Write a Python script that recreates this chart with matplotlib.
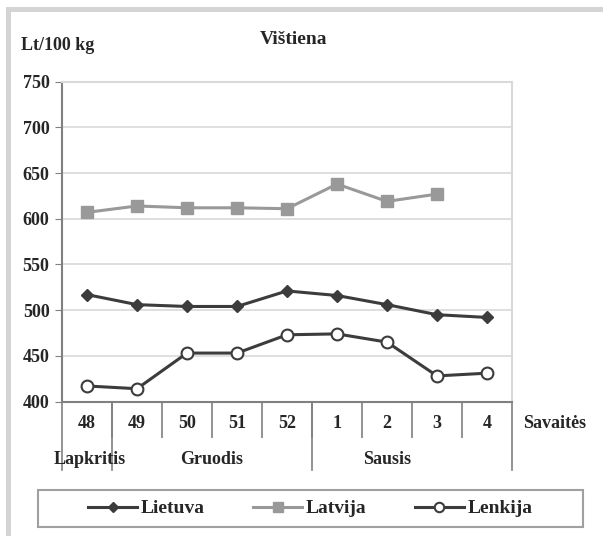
import matplotlib.pyplot as plt
from matplotlib.patches import Rectangle
import matplotlib.transforms as mtransforms

plt.rcParams['font.family'] = ['Liberation Serif', 'DejaVu Serif']
plt.rcParams['font.weight'] = 'bold'
plt.rcParams['text.color'] = '#262626'
plt.rcParams['xtick.labelcolor'] = '#262626'
plt.rcParams['ytick.labelcolor'] = '#262626'

# duomenys
weeks = ['48', '49', '50', '51', '52', '1', '2', '3', '4']
months = ['Lapkritis', 'Gruodis', 'Sausis']
month_pos = [0.05, 2.5, 6.0]
lietuva = [517, 506, 504, 504, 521, 516, 506, 495, 492]
latvija = [607, 614, 612, 612, 611, 638, 619, 627]
lenkija = [417, 414, 453, 453, 473, 474, 465, 428, 431]

W, H = 603, 536
fs = 13
fig = plt.figure(figsize=(W / 100, H / 100), dpi=100)

# pilkas remelis
fig.add_artist(Rectangle((6 / W, 0), 5 / W, (H - 7) / H, transform=fig.transFigure,
                         facecolor='#d4d4d4', edgecolor='none'))
fig.add_artist(Rectangle((6 / W, (H - 12) / H), (W - 6) / W, 5 / H, transform=fig.transFigure,
                         facecolor='#d4d4d4', edgecolor='none'))

left, right, top, bottom = 62, 512, 81.7, 401.5
ax = fig.add_axes([left / W, (H - bottom) / H, (right - left) / W, (bottom - top) / H])

x = list(range(len(weeks)))
dark = '#3c3c3c'
ax.plot(x, lietuva, color=dark, lw=2.2, marker='D', markersize=6.5, label='Lietuva', zorder=3)
ax.plot(x[:len(latvija)], latvija, color='#999999', lw=2.2, marker='s', markersize=9,
        label='Latvija', zorder=3)
ax.plot(x, lenkija, color=dark, lw=2.2, marker='o', markersize=8.5, markerfacecolor='white',
        markeredgecolor=dark, markeredgewidth=1.5, label='Lenkija', zorder=3)

ax.set_xlim(-0.5, len(weeks) - 0.5)
ax.set_ylim(400, 750)
ax.set_yticks(range(400, 751, 50))
ax.yaxis.grid(True, color='#d9d9d9', lw=1.2)
ax.set_axisbelow(True)
ax.tick_params(axis='y', length=5, color='#808080', labelsize=fs, pad=4)

# savaites - etiketes centre, skirtukai tarp ju
ax.set_xticks(x)
ax.set_xticklabels(weeks, fontsize=fs)
ax.tick_params(axis='x', which='major', length=0, pad=10)
ax.set_xticks([i - 0.5 for i in range(1, len(weeks))], minor=True)
ax.tick_params(axis='x', which='minor', length=26, color='#808080', width=1.2)

for s in ['left', 'bottom']:
    ax.spines[s].set_color('#808080')
    ax.spines[s].set_linewidth(1.5)
for s in ['right', 'top']:
    ax.spines[s].set_color('#d9d9d9')
    ax.spines[s].set_linewidth(1.5)

# menesiu skirtukai
trans = mtransforms.blended_transform_factory(ax.transData, ax.transAxes)
sep_depth = -68 / (bottom - top)
for sx in [-0.5, 0.5, 4.5, 8.5]:
    ax.plot([sx, sx], [0, sep_depth], transform=trans, color='#808080', lw=1.2, clip_on=False)
for name, pos in zip(months, month_pos):
    ax.text(pos, -58 / (bottom - top), name, transform=trans, ha='center', va='center',
            fontsize=fs)

ax.text(1.024, -22 / (bottom - top), 'Savaitės', transform=ax.transAxes, ha='left',
        va='center', fontsize=fs)

fig.text(294 / W, 1 - 40 / H, 'Vištiena', ha='center', va='center', fontsize=14)
fig.text(21 / W, 1 - 45 / H, 'Lt/100 kg', ha='left', va='center', fontsize=fs)

# legenda su atskiru remeliu
box = (38 / W, 1 - 527 / H, 545 / W, 37 / H)
fig.add_artist(Rectangle(box[:2], box[2], box[3], transform=fig.transFigure,
                         facecolor='none', edgecolor='#a0a0a0', lw=1.5))
fig.legend(loc='center', ncol=3, bbox_to_anchor=box, frameon=False,
           fontsize=14, handlelength=2.5, borderaxespad=0, borderpad=0.3,
           handletextpad=0.2, columnspacing=2.5, markerscale=0.8)

fig.savefig('out.png', dpi=100)
